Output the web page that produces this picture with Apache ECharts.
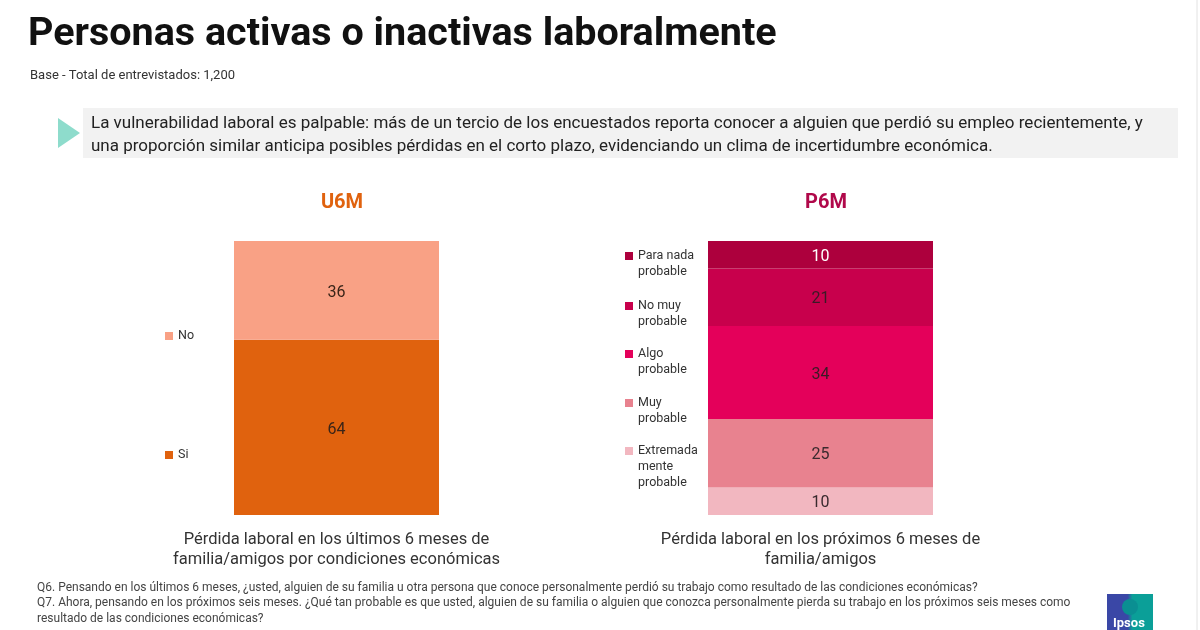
<!DOCTYPE html>
<html><head><meta charset="utf-8">
<script src="https://cdn.jsdelivr.net/npm/echarts@6/dist/echarts.min.js"></script>
<style>html,body{margin:0;padding:0;background:#fff}#c{width:1200px;height:630px}</style>
</head><body><div id="c"></div>
<script>
// ---- data ----
const u6mCategory = ['Pérdida laboral en los últimos 6 meses de\nfamilia/amigos por condiciones económicas'];
const p6mCategory = ['Pérdida laboral en los próximos 6 meses de\nfamilia/amigos'];
const u6mNames = ['Si', 'No'];            // bottom to top
const u6mValues = [64, 36];
const p6mNames = ['Extremada\nmente\nprobable', 'Muy\nprobable', 'Algo\nprobable', 'No muy\nprobable', 'Para nada\nprobable']; // bottom to top
const p6mValues = [10, 25, 34, 21, 10];

// ---- styles ----
const u6mColors = ['#e0620e', '#f9a185'];
const u6mLabelColors = ['#3a2418', '#3a2418'];
const p6mColors = ['#f2b7c0', '#e8828f', '#e4005a', '#c8004c', '#ad003d'];
const p6mLabelColors = ['#3a2a2e', '#3a2a2e', '#3a1a26', '#3a1a26', '#ffffff'];
const FONT = 'Roboto, "Noto Sans", sans-serif';

const series = [];
u6mNames.forEach((n, i) => series.push({
  type: 'bar', name: n, stack: 'u', xAxisIndex: 0, yAxisIndex: 0,
  data: [u6mValues[i]], barWidth: '100%',
  itemStyle: { color: u6mColors[i] },
  label: { show: true, position: 'inside', offset: [0, 3], color: u6mLabelColors[i], fontSize: 16, fontFamily: FONT }
}));
p6mNames.forEach((n, i) => series.push({
  type: 'bar', name: n, stack: 'p', xAxisIndex: 1, yAxisIndex: 1,
  data: [p6mValues[i]], barWidth: '100%',
  itemStyle: { color: p6mColors[i] },
  label: { show: true, position: 'inside', offset: [0, 2], color: p6mLabelColors[i], fontSize: 16, fontFamily: FONT }
}));

const LH = 16;
function legendFor(name, left, iconY) {
  const n = name.split('\n').length;
  const H = (2 * n - 1) * LH;
  return {
    data: [name], left: left, top: iconY - H / 2, padding: 0,
    icon: 'rect', itemWidth: 8, itemHeight: 8, itemGap: 0, selectedMode: false,
    formatter: (nm) => ' \n'.repeat(n - 1) + nm,
    textStyle: { fontSize: 12.5, color: '#333', fontFamily: FONT, lineHeight: LH }
  };
}
const legends = [
  legendFor('No', 165, 336),
  legendFor('Si', 165, 455),
  legendFor('Para nada\nprobable', 625, 256),
  legendFor('No muy\nprobable', 625, 306),
  legendFor('Algo\nprobable', 625, 354),
  legendFor('Muy\nprobable', 625, 403),
  legendFor('Extremada\nmente\nprobable', 625, 451)
];

const axisLabel = { fontSize: 16.5, color: '#333', lineHeight: 20, margin: 15, interval: 0, fontFamily: FONT };

const option = {
  backgroundColor: '#fff',
  animation: false,
  title: [
    { text: 'Personas activas o inactivas laboralmente', left: 28, top: 15, padding: 0,
      textStyle: { fontSize: 39.5, fontWeight: 'bold', color: '#111', fontFamily: FONT } },
    { text: 'Base - Total de entrevistados: 1,200', left: 30, top: 69, padding: 0,
      textStyle: { fontSize: 13, fontWeight: 'normal', color: '#333', fontFamily: FONT } },
    { text: 'U6M', left: 342, top: 193, textAlign: 'center', padding: 0,
      textStyle: { fontSize: 20, fontWeight: 'bold', color: '#e0620e', fontFamily: FONT } },
    { text: 'P6M', left: 826, top: 193, textAlign: 'center', padding: 0,
      textStyle: { fontSize: 20, fontWeight: 'bold', color: '#b0084a', fontFamily: FONT } }
  ],
  legend: legends,
  grid: [
    { left: 234, top: 241, width: 205, height: 274 },
    { left: 708, top: 241, width: 225, height: 274 }
  ],
  xAxis: [
    { type: 'category', gridIndex: 0, data: u6mCategory, axisLine: { show: false }, axisTick: { show: false }, axisLabel },
    { type: 'category', gridIndex: 1, data: p6mCategory, axisLine: { show: false }, axisTick: { show: false }, axisLabel }
  ],
  yAxis: [
    { type: 'value', gridIndex: 0, min: 0, max: 100, show: false },
    { type: 'value', gridIndex: 1, min: 0, max: 100, show: false }
  ],
  series: series,
  graphic: [
    { type: 'line', shape: { x1: 1197, y1: 0, x2: 1197, y2: 630 }, style: { stroke: '#e2e2e2', lineWidth: 1 } },
    { type: 'rect', shape: { x: 83, y: 108, width: 1095, height: 50 }, style: { fill: '#f2f2f2' } },
    { type: 'polygon', shape: { points: [[58, 118], [80, 133], [58, 148]] }, style: { fill: '#8edccc' } },
    { type: 'text', left: 91, top: 112, style: {
        text: 'La vulnerabilidad laboral es palpable: más de un tercio de los encuestados reporta conocer a alguien que perdió su empleo recientemente, y\nuna proporción similar anticipa posibles pérdidas en el corto plazo, evidenciando un clima de incertidumbre económica.',
        font: '17px ' + FONT, fill: '#222', lineHeight: 23 } },
    { type: 'text', left: 37, top: 580, style: {
        text: 'Q6. Pensando en los últimos 6 meses, ¿usted, alguien de su familia u otra persona que conoce personalmente perdió su trabajo como resultado de las condiciones económicas?\nQ7. Ahora, pensando en los próximos seis meses. ¿Qué tan probable es que usted, alguien de su familia o alguien que conozca personalmente pierda su trabajo en los próximos seis meses como\nresultado de las condiciones económicas?',
        font: '12px ' + FONT, fill: '#444', lineHeight: 15.5 } },
    { type: 'rect', shape: { x: 1107, y: 594, width: 46, height: 40 },
      style: { fill: new echarts.graphic.LinearGradient(0, 0, 1, 0, [{ offset: 0, color: '#3a47a6' }, { offset: 0.45, color: '#3a47a6' }, { offset: 0.55, color: '#0b9f98' }, { offset: 1, color: '#0b9f98' }]) } },
    { type: 'circle', shape: { cx: 1130, cy: 607, r: 8 }, style: { fill: '#0a8f92' } },
    { type: 'text', left: 1113, top: 617, style: { text: 'Ipsos', font: 'bold 13px ' + FONT, fill: '#fff' } }
  ]
};
const chart = echarts.init(document.getElementById('c'), null, { renderer: 'canvas' });
chart.setOption(option);
</script></body></html>
